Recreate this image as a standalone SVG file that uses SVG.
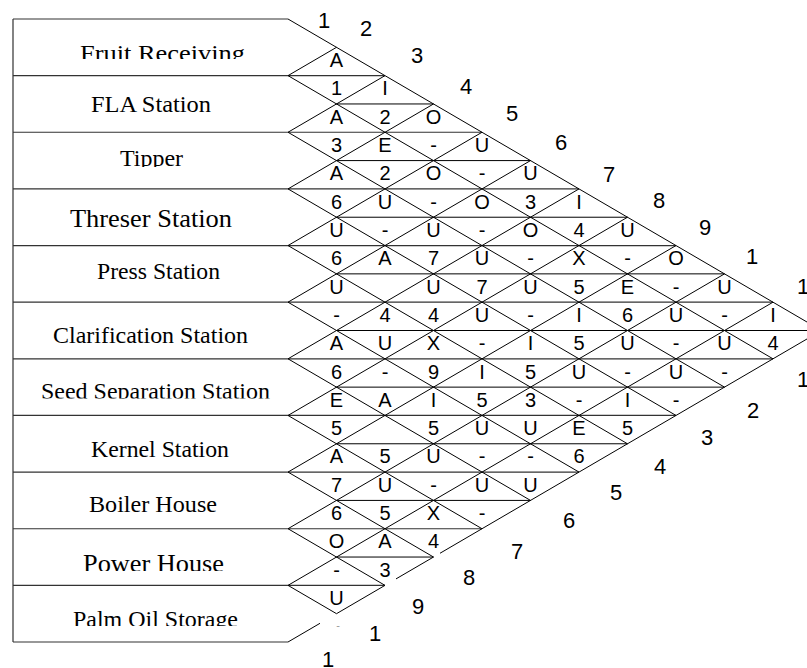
<svg xmlns="http://www.w3.org/2000/svg" width="807" height="668" viewBox="0 0 807 668">
<style>
.ln{stroke:#000;stroke-width:1;fill:none}
.rl{stroke:#333;stroke-width:1.2;fill:none}
.lbl{font-family:"Liberation Serif","Times New Roman",serif;fill:#000;text-anchor:middle}
.c{font-family:"Liberation Sans",Arial,sans-serif;font-size:20px;fill:#000;text-anchor:middle}
.n{font-family:"Liberation Sans",Arial,sans-serif;font-size:22px;fill:#000;text-anchor:middle}
</style>
<defs>
<clipPath id="cpFruit"><rect x="0" y="19" width="300" height="40"/></clipPath>
<clipPath id="cpTipper"><rect x="0" y="132" width="300" height="35"/></clipPath>
<clipPath id="cpSeed"><rect x="0" y="359" width="300" height="39.5"/></clipPath>
<clipPath id="cpPower"><rect x="0" y="529" width="300" height="42"/></clipPath>
<clipPath id="cpPalm"><rect x="0" y="585" width="300" height="41"/></clipPath>
</defs>
<rect x="0" y="0" width="807" height="668" fill="#fff"/>

<g id="connectors">
  <path class="rl" d="M13,19 V642 M13,19 H288 M13,642 H288"/>
  <path class="rl" d="M13,75.636 H385 M13,132.273 H482 M13,188.909 H579 M13,245.545 H676 M13,302.182 H773 M13,358.818 H773 M13,415.455 H676 M13,472.091 H579 M13,528.727 H482 M13,585.364 H385"/>
  <path class="ln" d="M336.5,103.955 H433.5 M336.5,160.591 H530.5 M336.5,217.227 H627.5 M336.5,273.864 H724.5 M336.5,330.5 H821.5 M336.5,387.136 H724.5 M336.5,443.773 H627.5 M336.5,500.409 H530.5 M336.5,557.045 H433.5"/>
  <path class="ln" d="M288,19 L821.5,330.5 M288,75.636 L773,358.818 M288,132.273 L724.5,387.136 M288,188.909 L676,415.455 M288,245.545 L627.5,443.773 M288,302.182 L579,472.091 M288,358.818 L530.5,500.409 M288,415.455 L482,528.727 M288,472.091 L433.5,557.045 M288,528.727 L385,585.364 M288,585.364 L336.5,613.682"/>
  <path class="ln" d="M288,75.636 L336.5,47.318 M288,132.273 L385,75.636 M288,188.909 L433.5,103.955 M288,245.545 L482,132.273 M288,302.182 L530.5,160.591 M288,358.818 L579,188.909 M288,415.455 L627.5,217.227 M288,472.091 L676,245.545 M288,528.727 L724.5,273.864 M288,585.364 L773,302.182"/>
  <path class="ln" d="M288,642 L320,623.3 M336.5,613.682 L385,585.364 M396,578.9 L433.5,557.045 M440,553.25 L821.5,330.5"/>
</g>

<g id="row-fruit-receiving"><text class="lbl" clip-path="url(#cpFruit)" x="162.5" y="61" font-size="24" textLength="165" lengthAdjust="spacingAndGlyphs">Fruit Receiving</text></g>
<g id="row-fla-station"><text class="lbl" x="151" y="112" font-size="23" textLength="120" lengthAdjust="spacingAndGlyphs">FLA Station</text></g>
<g id="row-tipper"><text class="lbl" clip-path="url(#cpTipper)" x="151.5" y="166" font-size="24" textLength="63" lengthAdjust="spacingAndGlyphs">Tipper</text></g>
<g id="row-threser-station"><text class="lbl" x="151" y="227" font-size="26" textLength="162" lengthAdjust="spacingAndGlyphs">Threser Station</text></g>
<g id="row-press-station"><text class="lbl" x="158.5" y="279" font-size="24" textLength="123" lengthAdjust="spacingAndGlyphs">Press Station</text></g>
<g id="row-clarification-station"><text class="lbl" x="150.5" y="343" font-size="23" textLength="195" lengthAdjust="spacingAndGlyphs">Clarification Station</text></g>
<g id="row-seed-separation-station"><text class="lbl" clip-path="url(#cpSeed)" x="155.5" y="399" font-size="23" textLength="229" lengthAdjust="spacingAndGlyphs">Seed Separation Station</text></g>
<g id="row-kernel-station"><text class="lbl" x="160" y="457" font-size="24" textLength="138" lengthAdjust="spacingAndGlyphs">Kernel Station</text></g>
<g id="row-boiler-house"><text class="lbl" x="153" y="512" font-size="23" textLength="128" lengthAdjust="spacingAndGlyphs">Boiler House</text></g>
<g id="row-power-house"><text class="lbl" clip-path="url(#cpPower)" x="153.5" y="572" font-size="25" textLength="141" lengthAdjust="spacingAndGlyphs">Power House</text></g>
<g id="row-palm-oil-storage"><text class="lbl" clip-path="url(#cpPalm)" x="155.5" y="627" font-size="24" textLength="165" lengthAdjust="spacingAndGlyphs">Palm Oil Storage</text></g>

<g id="cells">
  <text class="c" x="336.5" y="67">A</text>

  <text class="c" x="336.5" y="95.3">1</text><text class="c" x="385" y="95.3">I</text>

  <text class="c" x="336.5" y="123.6">A</text><text class="c" x="385" y="123.6">2</text><text class="c" x="433.5" y="123.6">O</text>

  <text class="c" x="336.5" y="151.9">3</text><text class="c" x="385" y="151.9">E</text><text class="c" x="433.5" y="151.9">-</text><text class="c" x="482" y="151.9">U</text>

  <text class="c" x="336.5" y="180.3">A</text><text class="c" x="385" y="180.3">2</text><text class="c" x="433.5" y="180.3">O</text><text class="c" x="482" y="180.3">-</text><text class="c" x="530.5" y="180.3">U</text>

  <text class="c" x="336.5" y="208.6">6</text><text class="c" x="385" y="208.6">U</text><text class="c" x="433.5" y="208.6">-</text><text class="c" x="482" y="208.6">O</text><text class="c" x="530.5" y="208.6">3</text><text class="c" x="579" y="208.6">I</text>

  <text class="c" x="336.5" y="236.9">U</text><text class="c" x="385" y="236.9">-</text><text class="c" x="433.5" y="236.9">U</text><text class="c" x="482" y="236.9">-</text><text class="c" x="530.5" y="236.9">O</text><text class="c" x="579" y="236.9">4</text><text class="c" x="627.5" y="236.9">U</text>

  <text class="c" x="336.5" y="265.2">6</text><text class="c" x="385" y="265.2">A</text><text class="c" x="433.5" y="265.2">7</text><text class="c" x="482" y="265.2">U</text><text class="c" x="530.5" y="265.2">-</text><text class="c" x="579" y="265.2">X</text><text class="c" x="627.5" y="265.2">-</text><text class="c" x="676" y="265.2">O</text>

  <text class="c" x="336.5" y="293.5">U</text><text class="c" x="433.5" y="293.5">U</text><text class="c" x="482" y="293.5">7</text><text class="c" x="530.5" y="293.5">U</text><text class="c" x="579" y="293.5">5</text><text class="c" x="627.5" y="293.5">E</text><text class="c" x="676" y="293.5">-</text><text class="c" x="724.5" y="293.5">U</text>

  <text class="c" x="336.5" y="321.8">-</text><text class="c" x="385" y="321.8">4</text><text class="c" x="433.5" y="321.8">4</text><text class="c" x="482" y="321.8">U</text><text class="c" x="530.5" y="321.8">-</text><text class="c" x="579" y="321.8">I</text><text class="c" x="627.5" y="321.8">6</text><text class="c" x="676" y="321.8">U</text><text class="c" x="724.5" y="321.8">-</text><text class="c" x="773" y="321.8">I</text>

  <text class="c" x="336.5" y="350.2">A</text><text class="c" x="385" y="350.2">U</text><text class="c" x="433.5" y="350.2">X</text><text class="c" x="482" y="350.2">-</text><text class="c" x="530.5" y="350.2">I</text><text class="c" x="579" y="350.2">5</text><text class="c" x="627.5" y="350.2">U</text><text class="c" x="676" y="350.2">-</text><text class="c" x="724.5" y="350.2">U</text><text class="c" x="773" y="350.2">4</text>

  <text class="c" x="336.5" y="378.5">6</text><text class="c" x="385" y="378.5">-</text><text class="c" x="433.5" y="378.5">9</text><text class="c" x="482" y="378.5">I</text><text class="c" x="530.5" y="378.5">5</text><text class="c" x="579" y="378.5">U</text><text class="c" x="627.5" y="378.5">-</text><text class="c" x="676" y="378.5">U</text><text class="c" x="724.5" y="378.5">-</text>

  <text class="c" x="336.5" y="406.8">E</text><text class="c" x="385" y="406.8">A</text><text class="c" x="433.5" y="406.8">I</text><text class="c" x="482" y="406.8">5</text><text class="c" x="530.5" y="406.8">3</text><text class="c" x="579" y="406.8">-</text><text class="c" x="627.5" y="406.8">I</text><text class="c" x="676" y="406.8">-</text>

  <text class="c" x="336.5" y="435.1">5</text><text class="c" x="433.5" y="435.1">5</text><text class="c" x="482" y="435.1">U</text><text class="c" x="530.5" y="435.1">U</text><text class="c" x="579" y="435.1">E</text><text class="c" x="627.5" y="435.1">5</text>

  <text class="c" x="336.5" y="463.4">A</text><text class="c" x="385" y="463.4">5</text><text class="c" x="433.5" y="463.4">U</text><text class="c" x="482" y="463.4">-</text><text class="c" x="530.5" y="463.4">-</text><text class="c" x="579" y="463.4">6</text>

  <text class="c" x="336.5" y="491.8">7</text><text class="c" x="385" y="491.8">U</text><text class="c" x="433.5" y="491.8">-</text><text class="c" x="482" y="491.8">U</text><text class="c" x="530.5" y="491.8">U</text>

  <text class="c" x="336.5" y="520.1">6</text><text class="c" x="385" y="520.1">5</text><text class="c" x="433.5" y="520.1">X</text><text class="c" x="482" y="520.1">-</text>

  <text class="c" x="336.5" y="548.4">O</text><text class="c" x="385" y="548.4">A</text><text class="c" x="433.5" y="548.4">4</text>

  <text class="c" x="336.5" y="576.7">-</text><text class="c" x="385" y="576.7">3</text>

  <text class="c" x="336.5" y="605">U</text>

  <text x="338" y="629" font-family="Liberation Sans, Arial, sans-serif" font-size="11" fill="#999" text-anchor="middle">-</text>
</g>

<g id="edge-numbers">
  <text class="n" x="324" y="28">1</text>
  <text class="n" x="366" y="36">2</text>
  <text class="n" x="417" y="63">3</text>
  <text class="n" x="466" y="94">4</text>
  <text class="n" x="512" y="121">5</text>
  <text class="n" x="561" y="150">6</text>
  <text class="n" x="609" y="182">7</text>
  <text class="n" x="659" y="208">8</text>
  <text class="n" x="705" y="235">9</text>
  <text class="n" x="752" y="264">1</text>
  <text class="n" x="803" y="294">1</text>
  <text class="n" x="803" y="387">1</text>
  <text class="n" x="753" y="418">2</text>
  <text class="n" x="707" y="445">3</text>
  <text class="n" x="660" y="474">4</text>
  <text class="n" x="616" y="500">5</text>
  <text class="n" x="569" y="528">6</text>
  <text class="n" x="517" y="559">7</text>
  <text class="n" x="469" y="585">8</text>
  <text class="n" x="418" y="614">9</text>
  <text class="n" x="375" y="641">1</text>
  <text class="n" x="328" y="667">1</text>
</g>
</svg>
